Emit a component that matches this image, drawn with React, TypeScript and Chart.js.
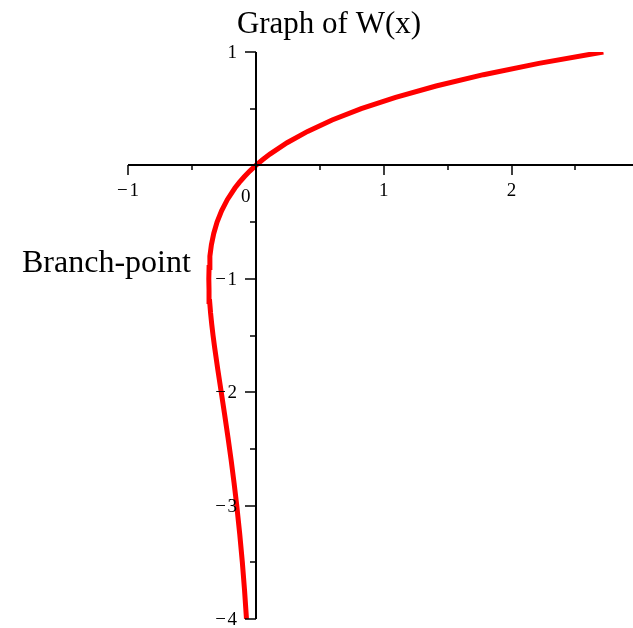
import React, { useEffect, useRef } from "react";
import { Chart, registerables } from "chart.js";

Chart.register(...registerables);

// Principal and lower branches of W(x), traced from bottom (-4) to top (1).
const wValues = [
  -4.0, -3.75, -3.5, -3.25, -3.0, -2.8, -2.6, -2.4, -2.2, -2.0, -1.8, -1.6, -1.5, -1.4,
  -1.3, -1.2, -1.1, -1.0, -0.9, -0.8, -0.7, -0.6, -0.5, -0.4, -0.3, -0.2, -0.15, -0.1,
  -0.05, 0, 0.05, 0.1, 0.2, 0.3, 0.4, 0.5, 0.6, 0.7, 0.8, 0.9, 1.0,
];
const xValues = [
  -0.0733, -0.0882, -0.1057, -0.1261, -0.1494, -0.1703, -0.1931, -0.2177, -0.2438, -0.2707,
  -0.2975, -0.323, -0.3347, -0.3452, -0.3543, -0.3614, -0.3662, -0.3679, -0.3659, -0.3595,
  -0.3476, -0.3293, -0.3033, -0.2681, -0.2222, -0.1637, -0.1291, -0.0905, -0.0476, 0,
  0.0526, 0.1105, 0.2443, 0.405, 0.5967, 0.8244, 1.0933, 1.4096, 1.7804, 2.2136, 2.718,
];

const xMajorTicks = [-1, 0, 1, 2];
const xMinorTicks = [-0.5, 0.5, 1.5, 2.5];
const yMajorTicks = [1, -1, -2, -3, -4];
const yMinorTicks = [0.5, -0.5, -1.5, -2.5, -3.5];

const titleText = "Graph of W(x)";
const noteText = "Branch-point";

const SERIF = "'Liberation Serif', 'DejaVu Serif', serif";

const fmt = (v: number) => (v < 0 ? "\u2212\u200A" + Math.abs(v) : String(v));

// Crossing axes through the origin, with major/minor tick marks and labels.
const crossAxes = {
  id: "crossAxes",
  afterDatasetsDraw(chart: any) {
    const { ctx, chartArea, scales } = chart;
    const xs = scales.x;
    const ys = scales.y;
    const ox = Math.round(xs.getPixelForValue(0));
    const oy = Math.round(ys.getPixelForValue(0));
    ctx.save();
    ctx.strokeStyle = "#000";
    ctx.fillStyle = "#000";
    ctx.lineWidth = 2;
    ctx.beginPath();
    ctx.moveTo(chartArea.left, oy);
    ctx.lineTo(chartArea.right, oy);
    ctx.moveTo(ox, ys.getPixelForValue(1));
    ctx.lineTo(ox, ys.getPixelForValue(-4));
    ctx.stroke();

    ctx.lineWidth = 1.5;
    ctx.beginPath();
    for (const v of xMajorTicks) {
      if (v === 0) continue;
      const px = Math.round(xs.getPixelForValue(v));
      ctx.moveTo(px, oy);
      ctx.lineTo(px, oy + 10);
    }
    for (const v of xMinorTicks) {
      const px = Math.round(xs.getPixelForValue(v));
      ctx.moveTo(px, oy);
      ctx.lineTo(px, oy + 5);
    }
    for (const v of yMajorTicks) {
      const py = Math.round(ys.getPixelForValue(v));
      ctx.moveTo(ox, py);
      ctx.lineTo(ox - 11, py);
    }
    for (const v of yMinorTicks) {
      const py = Math.round(ys.getPixelForValue(v));
      ctx.moveTo(ox, py);
      ctx.lineTo(ox - 6, py);
    }
    ctx.stroke();

    ctx.font = `19px ${SERIF}`;
    ctx.textBaseline = "alphabetic";
    ctx.textAlign = "center";
    for (const v of xMajorTicks) {
      const px = xs.getPixelForValue(v);
      if (v === 0) {
        ctx.fillText("0", px - 10, oy + 37);
      } else {
        ctx.fillText(fmt(v), px, oy + 31);
      }
    }
    ctx.textAlign = "right";
    ctx.textBaseline = "middle";
    for (const v of yMajorTicks) {
      const py = ys.getPixelForValue(v);
      ctx.fillText(fmt(v), ox - 19, py + 1);
    }

    ctx.textBaseline = "alphabetic";
    ctx.textAlign = "center";
    ctx.font = `31px ${SERIF}`;
    ctx.fillText(titleText, 329, 33);
    ctx.textAlign = "left";
    ctx.font = `32px ${SERIF}`;
    ctx.fillText(noteText, 22, 272);
    ctx.restore();
  },
};

export default function App() {
  const canvasRef = useRef<HTMLCanvasElement | null>(null);

  useEffect(() => {
    const canvas = canvasRef.current;
    if (!canvas) return;
    const points = wValues.map((w, i) => ({ x: xValues[i], y: w }));
    const chart = new Chart(canvas, {
      type: "scatter",
      data: {
        datasets: [
          {
            label: "W(x)",
            data: points,
            showLine: true,
            borderColor: "#ff0000",
            backgroundColor: "#ff0000",
            borderWidth: 5,
            pointRadius: 0,
            tension: 0,
          },
        ],
      },
      options: {
        animation: false,
        responsive: false,
        layout: { padding: { left: 128, right: 0, top: 52, bottom: 9 } },
        plugins: {
          legend: { display: false },
          title: { display: false },
          tooltip: { enabled: false },
        },
        scales: {
          x: { type: "linear", min: -1, max: 2.95, display: false },
          y: { type: "linear", min: -4, max: 1, display: false },
        },
      },
      plugins: [crossAxes],
    });
    return () => chart.destroy();
  }, []);

  return (
    <div style={{ position: "absolute", left: 0, top: 0, width: 633, height: 628, background: "#fff" }}>
      <canvas ref={canvasRef} width={633} height={628} />
    </div>
  );
}
